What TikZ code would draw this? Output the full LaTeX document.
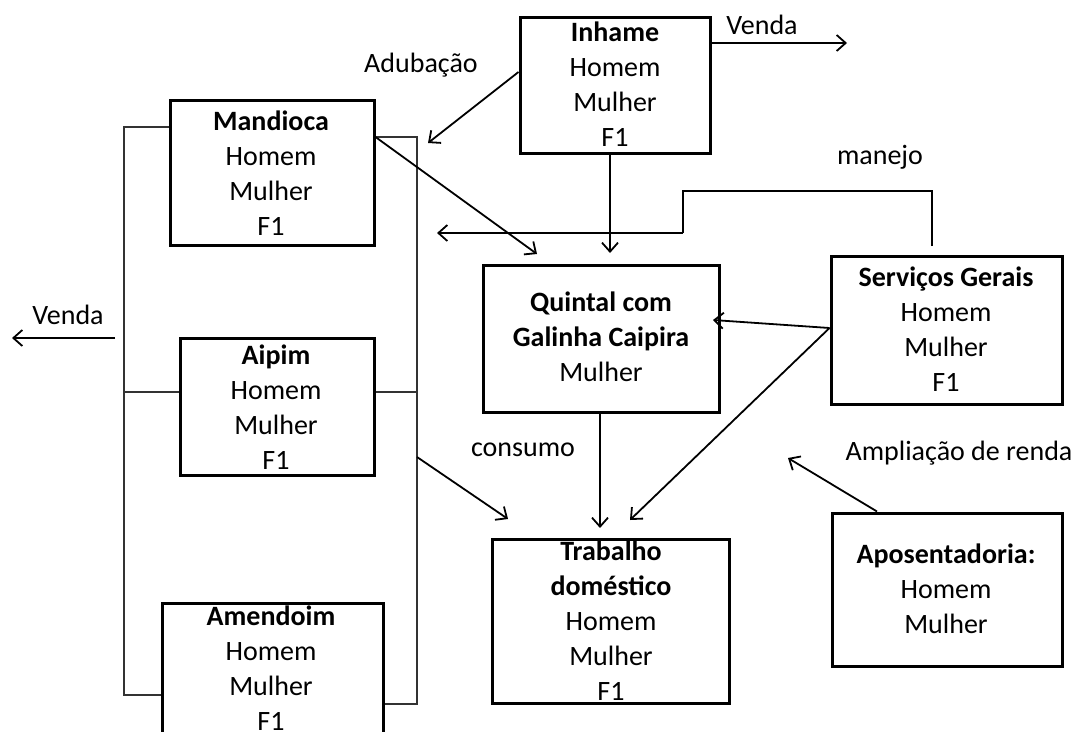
\documentclass[tikz,border=0pt]{standalone}
\usepackage{fontspec}
\setmainfont{Carlito}
\usetikzlibrary{arrows.meta}
\begin{document}
\begin{tikzpicture}[x=1pt,y=-1pt,
  box/.style={draw, line width=3pt, inner sep=0pt, fill=none},
  txt/.style={align=center, inner sep=0pt, font=\fontsize{28}{35}\selectfont},
  lbl/.style={inner sep=0pt, font=\fontsize{28}{35}\selectfont},
  arr/.style={line width=1.8pt, -{Straight Barb[length=9pt,width=16pt,line width=1.8pt]}},
  conn/.style={line width=1.8pt},
  brk/.style={line width=1.4pt, draw=black!80}]
% page frame
\fill[white] (0,0) rectangle (1083,731);
\useasboundingbox (0,0) rectangle (1083,731);
\clip (0,0) rectangle (1083,731);

% boxes
\node[box, minimum width=190pt, minimum height=136pt] (inh)   at (615,85)     {};
\node[box, minimum width=204pt, minimum height=145pt] (mand)  at (272,172.5)  {};
\node[box, minimum width=194pt, minimum height=137pt] (aipim) at (277,406.5)  {};
\node[box, minimum width=221pt, minimum height=137pt] (amen)  at (272.5,671.5){};
\node[box, minimum width=236pt, minimum height=147pt] (quint) at (601,338.5)  {};
\node[box, minimum width=231pt, minimum height=148pt] (serv)  at (946.5,330)  {};
\node[box, minimum width=237pt, minimum height=164pt] (trab)  at (610.5,621)  {};
\node[box, minimum width=230pt, minimum height=153pt] (apos)  at (947,589.5)  {};

% box contents
\node[txt] (inhT)   at (615,84)    {\textbf{Inhame}\\Homem\\Mulher\\F1};
\node[txt] (mandT)  at (271,173)   {\textbf{Mandioca}\\Homem\\Mulher\\F1};
\node[txt] (aipimT) at (276,407)   {\textbf{Aipim}\\Homem\\Mulher\\F1};
\node[txt] (amenT)  at (271,668)   {\textbf{Amendoim}\\Homem\\Mulher\\F1};
\node[txt] (quintT) at (601,337)   {\textbf{Quintal com}\\\textbf{Galinha Caipira}\\Mulher};
\node[txt] (servT)  at (946,329)   {\textbf{Serviços Gerais}\\Homem\\Mulher\\F1};
\node[txt] (trabT)  at (611,621)   {\textbf{Trabalho}\\\textbf{doméstico}\\Homem\\Mulher\\F1};
\node[txt] (aposT)  at (946,589)   {\textbf{Aposentadoria:}\\Homem\\Mulher};

% free labels
\node[lbl] (adub)  at (421,65)  {Adubação};
\node[lbl] (vendR) at (762,25)  {Venda};
\node[lbl] (vendL) at (68,315)  {Venda};
\node[lbl] (manej) at (880,157) {manejo};
\node[lbl] (cons)  at (523,450) {consumo};
\node[lbl] (ampl)  at (959,453) {Ampliação de renda};

% free ends and bends
\coordinate (adubEnd)  at (428,143);
\coordinate (vendREnd) at (847,43);
\coordinate (vendLBeg) at (115,338);
\coordinate (vendLEnd) at (12,338);
\coordinate (lbTop)    at (124,127);
\coordinate (lbMid)    at (124,392);
\coordinate (lbBot)    at (124,695);
\coordinate (rbTop)    at (417,137);
\coordinate (rbMid)    at (417,392);
\coordinate (rbOut)    at (417,457);
\coordinate (rbBot)    at (417,704);
\coordinate (quintIn1) at (537,254);
\coordinate (quintIn2) at (610,253);
\coordinate (trabIn1)  at (508,519);
\coordinate (trabIn2)  at (600,528);
\coordinate (trabIn3)  at (630,520);
\coordinate (quintIn3) at (713,320);
\coordinate (manA)     at (932,246);
\coordinate (manB)     at (932,191);
\coordinate (manC)     at (683,191);
\coordinate (manD)     at (683,233);
\coordinate (manEnd)   at (437,233);
\coordinate (amplEnd)  at (788,458);

% brackets joining the crops
\draw[brk] (mand.west |- lbTop) -- (lbTop) -- (lbBot) -- (amen.west |- lbBot);
\draw[brk] (mand.east |- rbTop) -- (rbTop) -- (rbBot) -- (amen.east |- rbBot);
\draw[brk] (lbMid) -- (aipim.west |- lbMid);
\draw[brk] (aipim.east |- rbMid) -- (rbMid);

% flows
\draw[arr] (inh.west |- 0,72) -- (adubEnd);
\draw[arr] (inh.east |- vendREnd) -- (vendREnd);
\draw[arr] (inh.south -| quintIn2) -- (quintIn2);
\draw[arr] (mand.east |- rbTop) -- (quintIn1);
\draw[arr] (vendLBeg) -- (vendLEnd);
\draw[arr] (rbOut) -- (trabIn1);
\draw[arr] (quint.south -| trabIn2) -- (trabIn2);
\draw[arr] (serv.west |- 0,328) -- (quintIn3);
\draw[arr] (serv.west |- 0,328) -- (trabIn3);
\draw[conn] (manA) -- (manB) -- (manC) -- (manD);
\draw[arr] (manD) -- (manEnd);
\draw[arr] (apos.north -| 877,0) -- (amplEnd);
\end{tikzpicture}
\end{document}
